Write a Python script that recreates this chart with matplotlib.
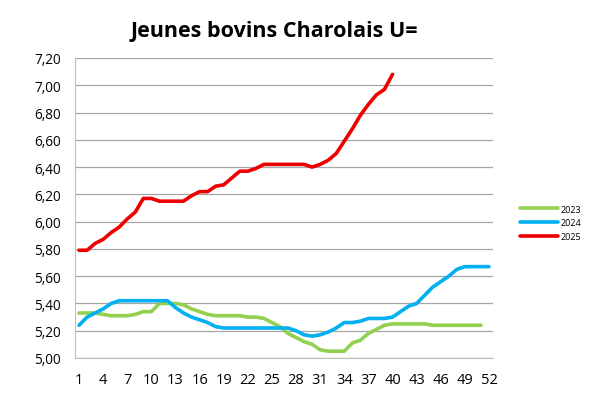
import matplotlib
matplotlib.use("Agg")
import matplotlib.pyplot as plt
from matplotlib.ticker import FuncFormatter

# weekly prices, euro/kg
weeks = list(range(1, 53))
price_2023 = [5.33, 5.33, 5.33, 5.32, 5.31, 5.31, 5.31, 5.32, 5.34, 5.34,
              5.40, 5.40, 5.40, 5.39, 5.36, 5.34, 5.32, 5.31, 5.31, 5.31,
              5.31, 5.30, 5.30, 5.29, 5.26, 5.23, 5.18, 5.15, 5.12, 5.10,
              5.06, 5.05, 5.05, 5.05, 5.11, 5.13, 5.18, 5.21, 5.24, 5.25,
              5.25, 5.25, 5.25, 5.25, 5.24, 5.24, 5.24, 5.24, 5.24, 5.24,
              5.24]
price_2024 = [5.24, 5.30, 5.33, 5.36, 5.40, 5.42, 5.42, 5.42, 5.42, 5.42,
              5.42, 5.42, 5.37, 5.33, 5.30, 5.28, 5.26, 5.23, 5.22, 5.22,
              5.22, 5.22, 5.22, 5.22, 5.22, 5.22, 5.22, 5.20, 5.17, 5.16,
              5.17, 5.19, 5.22, 5.26, 5.26, 5.27, 5.29, 5.29, 5.29, 5.30,
              5.34, 5.38, 5.40, 5.46, 5.52, 5.56, 5.60, 5.65, 5.67, 5.67,
              5.67, 5.67]
price_2025 = [5.79, 5.79, 5.84, 5.87, 5.92, 5.96, 6.02, 6.07, 6.17, 6.17,
              6.15, 6.15, 6.15, 6.15, 6.19, 6.22, 6.22, 6.26, 6.27, 6.32,
              6.37, 6.37, 6.39, 6.42, 6.42, 6.42, 6.42, 6.42, 6.42, 6.40,
              6.42, 6.45, 6.50, 6.59, 6.68, 6.78, 6.86, 6.93, 6.97, 7.08]

fig = plt.figure(figsize=(6, 4.02), dpi=100)
ax = fig.add_axes([75 / 600, 1 - 359 / 402, 418 / 600, 300 / 402])

ax.plot(weeks[:len(price_2023)], price_2023, color="#92D050", lw=2.6, label="2023",
        solid_capstyle="round", solid_joinstyle="round")
ax.plot(weeks[:len(price_2024)], price_2024, color="#00B0F0", lw=2.6, label="2024",
        solid_capstyle="round", solid_joinstyle="round")
ax.plot(weeks[:len(price_2025)], price_2025, color="#EE0000", lw=2.6, label="2025",
        solid_capstyle="round", solid_joinstyle="round")

ax.set_xlim(0.5, 52.5)
ax.set_ylim(5.0, 7.2)
ax.set_yticks([5.0 + 0.2 * i for i in range(12)])
ax.yaxis.set_major_formatter(FuncFormatter(lambda v, p: f"{v:.2f}".replace(".", ",")))
ax.set_xticks(list(range(1, 53, 3)))

ax.grid(axis="y", color="#A6A6A6", lw=0.9)
ax.set_axisbelow(True)
for side in ["top", "right"]:
    ax.spines[side].set_visible(False)
ax.spines["left"].set_color("#BFBFBF")
ax.spines["bottom"].set_color("#BFBFBF")
ax.tick_params(length=0)
ax.tick_params(axis="y", labelsize=9.8, pad=10)
ax.tick_params(axis="x", labelsize=10.5, pad=10)
for lab in ax.get_xticklabels() + ax.get_yticklabels():
    lab.set_fontfamily("Open Sans")

fig.text(0.458, 0.922, "Jeunes bovins Charolais U=", ha="center", va="center",
         fontsize=15.5, fontweight="bold", family="Open Sans")

ax.legend(loc="center left", bbox_to_anchor=(1.045, 0.45), frameon=False,
          prop={"family": "Open Sans", "size": 6.5}, handlelength=4.2,
          handletextpad=0.3, labelspacing=0.55)

fig.savefig("out.png", dpi=100)
